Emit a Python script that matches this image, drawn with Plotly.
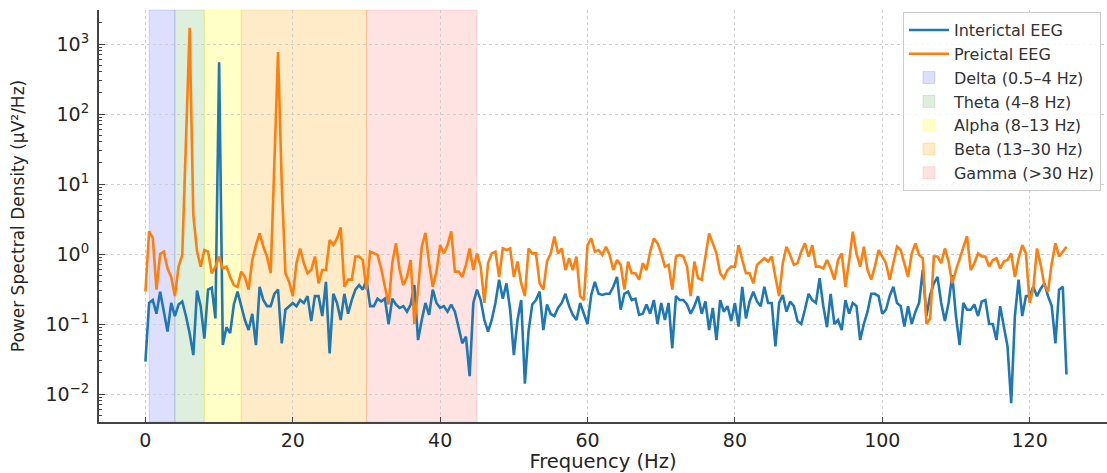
import numpy as np
import plotly.graph_objects as go

# Frequency grid (Hz), 0.5 Hz resolution
freqs = np.arange(0, 251) * 0.5

interictal = [
    0.029, 0.20, 0.22, 0.14, 0.29, 0.16, 0.078, 0.20, 0.13, 0.19,
    0.21, 0.13, 0.074, 0.036, 0.30, 0.18, 0.062, 0.31, 0.33, 0.12,
    550, 0.05, 0.09, 0.074, 0.19, 0.29, 0.18, 0.114, 0.082, 0.14,
    0.05, 0.34, 0.22, 0.18, 0.18, 0.27, 0.31, 0.053, 0.16, 0.18,
    0.20, 0.18, 0.22, 0.20, 0.25, 0.11, 0.25, 0.25, 0.13, 0.40,
    0.038, 0.27, 0.20, 0.114, 0.27, 0.14, 0.22, 0.31, 0.36, 0.31,
    0.43, 0.18, 0.18, 0.23, 0.21, 0.23, 0.10, 0.23, 0.19, 0.17,
    0.18, 0.15, 0.19, 0.36, 0.059, 0.114, 0.20, 0.135, 0.31, 0.20,
    0.17, 0.18, 0.15, 0.19, 0.15, 0.09, 0.053, 0.066, 0.018, 0.20,
    0.31, 0.22, 0.114, 0.078, 0.114, 0.20, 0.43, 0.23, 0.38, 0.16,
    0.036, 0.114, 0.22, 0.014, 0.08, 0.19, 0.22, 0.29, 0.082, 0.19,
    0.14, 0.13, 0.17, 0.20, 0.27, 0.18, 0.135, 0.114, 0.20, 0.14,
    0.10, 0.26, 0.40, 0.27, 0.26, 0.27, 0.27, 0.34, 0.47, 0.16,
    0.27, 0.29, 0.22, 0.23, 0.135, 0.14, 0.19, 0.14, 0.22, 0.10,
    0.20, 0.114, 0.20, 0.045, 0.25, 0.22, 0.22, 0.19, 0.14, 0.18,
    0.25, 0.14, 0.21, 0.082, 0.17, 0.059, 0.22, 0.15, 0.18, 0.11,
    0.20, 0.092, 0.34, 0.12, 0.21, 0.29, 0.21, 0.18, 0.34, 0.20,
    0.20, 0.048, 0.20, 0.26, 0.15, 0.21, 0.18, 0.11, 0.10, 0.16,
    0.27, 0.22, 0.20, 0.45, 0.18, 0.09, 0.27, 0.10, 0.114, 0.082,
    0.22, 0.14, 0.20, 0.18, 0.059, 0.10, 0.15, 0.27, 0.27, 0.25,
    0.14, 0.16, 0.25, 0.34, 0.20, 0.18, 0.092, 0.18, 0.10, 0.15,
    0.20, 0.60, 0.13, 0.26, 0.38, 0.47, 0.20, 0.11, 0.20, 0.50,
    0.13, 0.05, 0.20, 0.16, 0.16, 0.19, 0.13, 0.21, 0.22, 0.10,
    0.10, 0.059, 0.18, 0.092, 0.048, 0.0074, 0.13, 0.43, 0.13, 0.25,
    0.25, 0.34, 0.25, 0.32, 0.38, 0.25, 0.18, 0.053, 0.31, 0.34,
    0.019,
]

preictal = [
    0.29, 2.1, 1.7, 0.31, 1.0, 1.08, 0.62, 0.47, 0.25, 0.66,
    0.97, 30, 1700, 3.6, 1.1, 0.66, 1.14, 1.08, 0.53, 0.66,
    0.92, 0.62, 0.66, 0.47, 0.36, 0.34, 0.56, 0.47, 0.31, 0.82,
    1.34, 1.97, 1.27, 0.92, 0.53, 20, 770, 10, 0.53, 0.40,
    0.25, 0.74, 1.2, 0.74, 0.53, 0.59, 0.92, 0.38, 0.59, 0.59,
    1.58, 1.34, 1.67, 2.4, 0.34, 0.43, 0.43, 0.92, 0.92, 0.82,
    0.31, 1.08, 1.02, 0.97, 0.62, 0.34, 0.19, 0.74, 1.42, 0.59,
    0.36, 0.47, 0.82, 0.10, 0.31, 1.27, 2.0, 0.74, 0.34, 0.56,
    1.34, 1.02, 1.34, 2.1, 0.56, 0.56, 0.47, 0.70, 1.2, 0.59,
    1.02, 0.66, 0.20, 0.74, 1.02, 1.08, 0.47, 1.2, 1.14, 1.2,
    0.47, 0.78, 0.38, 0.25, 1.2, 1.02, 1.02, 0.38, 0.31, 0.78,
    1.02, 1.77, 1.02, 1.2, 0.59, 0.87, 0.59, 0.92, 0.25, 0.22,
    1.34, 1.67, 1.08, 1.14, 0.97, 1.27, 0.97, 0.59, 0.82, 0.70,
    0.31, 0.78, 0.53, 0.53, 0.43, 0.74, 0.59, 1.08, 1.67, 1.42,
    1.02, 0.66, 0.70, 0.31, 0.92, 0.97, 0.92, 0.66, 0.25, 0.78,
    0.45, 0.43, 0.92, 1.97, 1.42, 1.02, 0.53, 0.45, 0.59, 0.66,
    0.66, 1.34, 0.82, 0.53, 0.53, 0.38, 0.70, 0.78, 0.87, 0.78,
    0.92, 0.47, 0.25, 0.74, 1.27, 0.97, 0.70, 0.74, 1.08, 1.42,
    0.92, 1.34, 0.66, 0.66, 0.62, 0.82, 0.62, 0.43, 0.82, 1.02,
    0.34, 0.78, 2.08, 1.02, 0.66, 1.27, 0.59, 0.43, 0.66, 1.14,
    0.92, 0.74, 0.43, 0.78, 1.27, 1.14, 0.74, 0.47, 1.02, 1.42,
    0.97, 0.87, 0.10, 0.12, 0.92, 0.92, 0.74, 1.2, 0.78, 0.38,
    0.59, 0.87, 1.27, 1.8, 0.59, 0.74, 1.02, 0.92, 0.92, 0.66,
    0.82, 0.87, 0.62, 0.78, 0.82, 1.02, 0.47, 0.87, 1.34, 1.02,
    0.20, 0.32, 1.2, 0.70, 0.36, 0.29, 0.74, 1.42, 0.92, 1.08,
    1.27,
]

band_names = ["Delta (0.5–4 Hz)", "Theta (4–8 Hz)", "Alpha (8–13 Hz)",
              "Beta (13–30 Hz)", "Gamma (>30 Hz)"]
band_lo = [0.5, 4, 8, 13, 30]
band_hi = [4, 8, 13, 30, 45]
band_colors = ["rgba(0,0,255,0.13)", "rgba(0,128,0,0.13)", "rgba(255,255,0,0.22)",
               "rgba(255,165,0,0.22)", "rgba(255,0,0,0.11)"]

ytick_vals = [1e-2, 1e-1, 1e0, 1e1, 1e2, 1e3]
ytick_text = ["10<sup>−2</sup>", "10<sup>−1</sup>", "10<sup>0</sup>",
              "10<sup>1</sup>", "10<sup>2</sup>", "10<sup>3</sup>"]
xtick_vals = [0, 20, 40, 60, 80, 100, 120]

assert len(interictal) == len(freqs) and len(preictal) == len(freqs)

FONT = "DejaVu Sans"
fig = go.Figure()
fig.add_trace(go.Scatter(x=freqs, y=interictal, mode="lines", name="Interictal EEG",
                         line=dict(color="#1f77b4", width=2.6), legendrank=1))
fig.add_trace(go.Scatter(x=freqs, y=preictal, mode="lines", name="Preictal EEG",
                         line=dict(color="#ff7f0e", width=2.6), legendrank=2))

for i, (nm, lo, hi, col) in enumerate(zip(band_names, band_lo, band_hi, band_colors)):
    fig.add_vrect(x0=lo, x1=hi, fillcolor=col, line=dict(color=col, width=1),
                  layer="below", showlegend=True, name=nm, legendrank=3 + i)

minor_vals = [k * 10.0 ** e for e in range(-3, 4) for k in range(2, 10)]

fig.update_layout(
    width=1107, height=473,
    margin=dict(l=99, r=0, t=10, b=51),
    paper_bgcolor="white", plot_bgcolor="white",
    font=dict(family=FONT, color="#262626"),
    showlegend=True,
    legend=dict(x=0.994, y=0.995, xanchor="right", yanchor="top",
                bgcolor="rgba(255,255,255,0.85)", bordercolor="#cccccc", borderwidth=1,
                font=dict(family=FONT, size=16, color="#333333"),
                itemwidth=40, tracegroupgap=2),
    xaxis=dict(
        range=[-6.3, 130.5], tickvals=xtick_vals,
        ticks="inside", ticklen=5, tickwidth=1.2, tickcolor="#444444",
        showline=True, linecolor="#444444", linewidth=2, mirror=False,
        showgrid=True, gridcolor="#cfcfcf", griddash="dot", gridwidth=1,
        zeroline=False,
        tickfont=dict(family=FONT, size=19, color="#262626"),
        title=dict(text="Frequency (Hz)", font=dict(family=FONT, size=19.5, color="#262626"),
                   standoff=6),
    ),
    yaxis=dict(
        type="log", range=[-2.4, 3.486],
        tickmode="array", tickvals=ytick_vals, ticktext=ytick_text,
        ticks="inside", ticklen=6, tickwidth=1.2, tickcolor="#444444",
        ticklabelstandoff=4,
        minor=dict(tickmode="array", tickvals=minor_vals, ticks="inside", ticklen=3,
                   tickcolor="#444444", showgrid=False),
        showline=True, linecolor="#444444", linewidth=2, mirror=False,
        showgrid=True, gridcolor="#cfcfcf", griddash="dot", gridwidth=1,
        zeroline=False,
        tickfont=dict(family=FONT, size=19, color="#262626"),
        title=dict(text="Power Spectral Density (µV²/Hz)",
                   font=dict(family=FONT, size=17, color="#262626"), standoff=16),
    ),
)

fig.write_html("out.html")
